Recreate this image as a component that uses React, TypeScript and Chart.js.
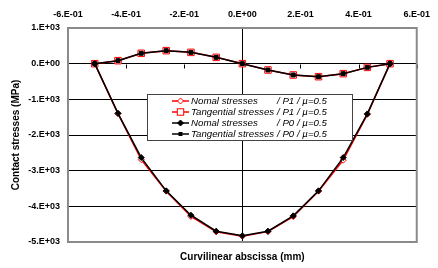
import React, { useEffect, useRef } from 'react';
import { Chart, registerables } from 'chart.js';

Chart.register(...registerables);

// ---- data ----
const xValues = [-0.508, -0.428, -0.348, -0.262, -0.177, -0.09, 0, 0.088, 0.175, 0.262, 0.347, 0.43, 0.508];
const normalP1 = [0, -1400, -2690, -3575, -4285, -4715, -4835, -4710, -4290, -3575, -2705, -1420, 0];
const tangentialP1 = [0, 84, 290, 365, 317, 177, 0, -177, -317, -365, -280, -104, 0];
const normalP0 = [0, -1392, -2633, -3566, -4249, -4697, -4827, -4697, -4267, -3566, -2633, -1409, 0];
const tangentialP0 = [0, 84, 290, 365, 317, 177, 0, -177, -317, -365, -280, -104, 0];

const legendNames = ['Nomal stresses', 'Tangential stresses', 'Nomal stresses', 'Tangential stresses'];
const legendSuffixes = ['/ P1 / \u00b5=0.5', '/ P1 / \u00b5=0.5', '/ P0 / \u00b5=0.5', '/ P0 / \u00b5=0.5'];
const xTitle = 'Curvilinear abscissa (mm)';
const yTitle = 'Contact stresses (MPa)';

const FONT = '"Liberation Sans", Arial, sans-serif';

function sci(v: number): string {
  const r = Math.round(v * 1e6) / 1e6;
  if (r === 0) return '0.E+00';
  const e = Math.floor(Math.log10(Math.abs(r)) + 1e-9);
  const m = Math.round(r / Math.pow(10, e));
  const sign = e < 0 ? '-' : '+';
  return `${m}.E${sign}${String(Math.abs(e)).padStart(2, '0')}`;
}

const pts = (ys: number[]) => xValues.map((x, i) => ({ x, y: ys[i] }));

function drawMarker(ctx: CanvasRenderingContext2D, kind: string, x: number, y: number, color: string) {
  ctx.save();
  ctx.lineWidth = 1;
  ctx.strokeStyle = color;
  if (kind === 'diamondOpen' || kind === 'diamond') {
    const r = 3;
    ctx.beginPath();
    ctx.moveTo(x, y - r);
    ctx.lineTo(x + r, y);
    ctx.lineTo(x, y + r);
    ctx.lineTo(x - r, y);
    ctx.closePath();
    ctx.fillStyle = kind === 'diamond' ? color : '#fff';
    ctx.fill();
    ctx.stroke();
  } else if (kind === 'squareOpen') {
    ctx.fillStyle = '#fff';
    ctx.fillRect(x - 3.2, y - 3.2, 6.4, 6.4);
    ctx.strokeRect(x - 3.2, y - 3.2, 6.4, 6.4);
  } else {
    ctx.fillStyle = color;
    ctx.fillRect(x - 2, y - 2, 4, 4);
  }
  ctx.restore();
}

const decorPlugin = {
  id: 'decor',
  beforeDatasetsDraw(chart: any) {
    const { ctx, chartArea: a, scales } = chart;
    const xs = scales.x;
    const ys = scales.y;
    ctx.save();
    // vertical axis line at x = 0
    const x0 = Math.round(xs.getPixelForValue(0)) + 0.5;
    ctx.strokeStyle = '#000';
    ctx.lineWidth = 1;
    ctx.beginPath();
    ctx.moveTo(x0, a.top);
    ctx.lineTo(x0, a.bottom);
    ctx.stroke();
    // tick marks along y = 0
    const y0 = Math.round(ys.getPixelForValue(0)) + 0.5;
    ctx.beginPath();
    for (const t of xs.ticks) {
      const px = Math.round(xs.getPixelForValue(t.value)) + 0.5;
      ctx.moveTo(px, y0);
      ctx.lineTo(px, y0 + 4);
    }
    ctx.stroke();
    // plot frame
    ctx.strokeStyle = '#8a8a8a';
    ctx.lineWidth = 2;
    ctx.strokeRect(a.left, a.top, a.right - a.left, a.bottom - a.top);
    ctx.restore();
  },
  afterDraw(chart: any) {
    const { ctx, chartArea: a } = chart;
    ctx.save();
    // axis titles
    ctx.fillStyle = '#000';
    ctx.font = `bold 10px ${FONT}`;
    ctx.textAlign = 'center';
    ctx.textBaseline = 'middle';
    ctx.fillText(xTitle, (a.left + a.right) / 2, 257);
    ctx.save();
    ctx.translate(16, (a.top + a.bottom) / 2);
    ctx.rotate(-Math.PI / 2);
    ctx.fillText(yTitle, 0, 0);
    ctx.restore();

    // legend
    const bx = 147.5, by = 94.5, bw = 205, bh = 46;
    ctx.fillStyle = '#fff';
    ctx.fillRect(bx, by, bw, bh);
    ctx.strokeStyle = '#444';
    ctx.lineWidth = 1;
    ctx.strokeRect(bx, by, bw, bh);
    const colors = ['#ff0000', '#ff0000', '#000', '#000'];
    const kinds = ['diamondOpen', 'squareOpen', 'diamond', 'square'];
    const rowsY = [101, 112, 123, 134];
    ctx.font = `italic 9.7px ${FONT}`;
    ctx.textAlign = 'left';
    ctx.textBaseline = 'middle';
    for (let i = 0; i < 4; i++) {
      const y = rowsY[i];
      ctx.strokeStyle = colors[i];
      ctx.lineWidth = 1.5;
      ctx.beginPath();
      ctx.moveTo(172, y);
      ctx.lineTo(189, y);
      ctx.stroke();
      drawMarker(ctx, kinds[i], 180.5, y, colors[i]);
      ctx.fillStyle = '#000';
      ctx.fillText(legendNames[i], 191, y);
      ctx.fillText(legendSuffixes[i], 277, y);
    }
    ctx.restore();
  },
};

export default function App() {
  const ref = useRef<HTMLCanvasElement>(null);
  useEffect(() => {
    const tickFont = { family: FONT, size: 9, weight: 'bold' as const };
    const chart = new Chart(ref.current!, {
      type: 'scatter',
      data: {
        datasets: [
          {
            label: 'Nomal stresses / P1 / \u00b5=0.5',
            data: pts(normalP1),
            showLine: true,
            borderColor: '#ff0000',
            borderWidth: 1.5,
            pointStyle: 'rectRot',
            pointRadius: 3,
            pointBackgroundColor: '#fff',
            pointBorderColor: '#ff0000',
            pointBorderWidth: 1,
            order: 2,
          },
          {
            label: 'Tangential stresses / P1 / \u00b5=0.5',
            data: pts(tangentialP1),
            showLine: true,
            borderColor: '#ff0000',
            borderWidth: 1.5,
            pointStyle: 'rect',
            pointRadius: 4.6,
            pointBackgroundColor: '#fff',
            pointBorderColor: '#ff0000',
            pointBorderWidth: 1,
            order: 2,
          },
          {
            label: 'Nomal stresses / P0 / \u00b5=0.5',
            data: pts(normalP0),
            showLine: true,
            borderColor: '#000',
            borderWidth: 1.5,
            pointStyle: 'rectRot',
            pointRadius: 3,
            pointBackgroundColor: '#000',
            pointBorderColor: '#000',
            pointBorderWidth: 1,
            order: 1,
          },
          {
            label: 'Tangential stresses / P0 / \u00b5=0.5',
            data: pts(tangentialP0),
            showLine: true,
            borderColor: '#000',
            borderWidth: 1.5,
            pointStyle: 'rect',
            pointRadius: 2.8,
            pointBackgroundColor: '#000',
            pointBorderColor: '#000',
            pointBorderWidth: 1,
            order: 1,
          },
        ],
      },
      options: {
        responsive: false,
        animation: false,
        devicePixelRatio: 1,
        layout: { padding: { left: 0, top: 0, right: 12, bottom: 26 } },
        plugins: { legend: { display: false }, tooltip: { enabled: false } },
        scales: {
          x: {
            type: 'linear',
            position: 'top',
            min: -0.6,
            max: 0.6,
            ticks: {
              stepSize: 0.2,
              callback: (v: any) => sci(Number(v)),
              font: tickFont,
              color: '#000',
              padding: 8,
              maxRotation: 0,
              autoSkip: false,
            },
            grid: { display: false, drawTicks: false },
            border: { display: false },
            afterFit: (s: any) => {
              s.height = 28;
            },
          },
          y: {
            type: 'linear',
            min: -5000,
            max: 1000,
            ticks: {
              stepSize: 1000,
              callback: (v: any) => sci(Number(v)),
              font: tickFont,
              color: '#000',
              padding: 8,
            },
            grid: { color: '#000', lineWidth: 1, drawTicks: false },
            border: { display: false },
            afterFit: (s: any) => {
              s.width = 68;
            },
          },
        },
      },
      plugins: [decorPlugin],
    });
    return () => chart.destroy();
  }, []);
  return (
    <canvas
      ref={ref}
      width={438}
      height={268}
      style={{ position: 'fixed', left: 0, top: 0, width: 438, height: 268, display: 'block' }}
    />
  );
}
